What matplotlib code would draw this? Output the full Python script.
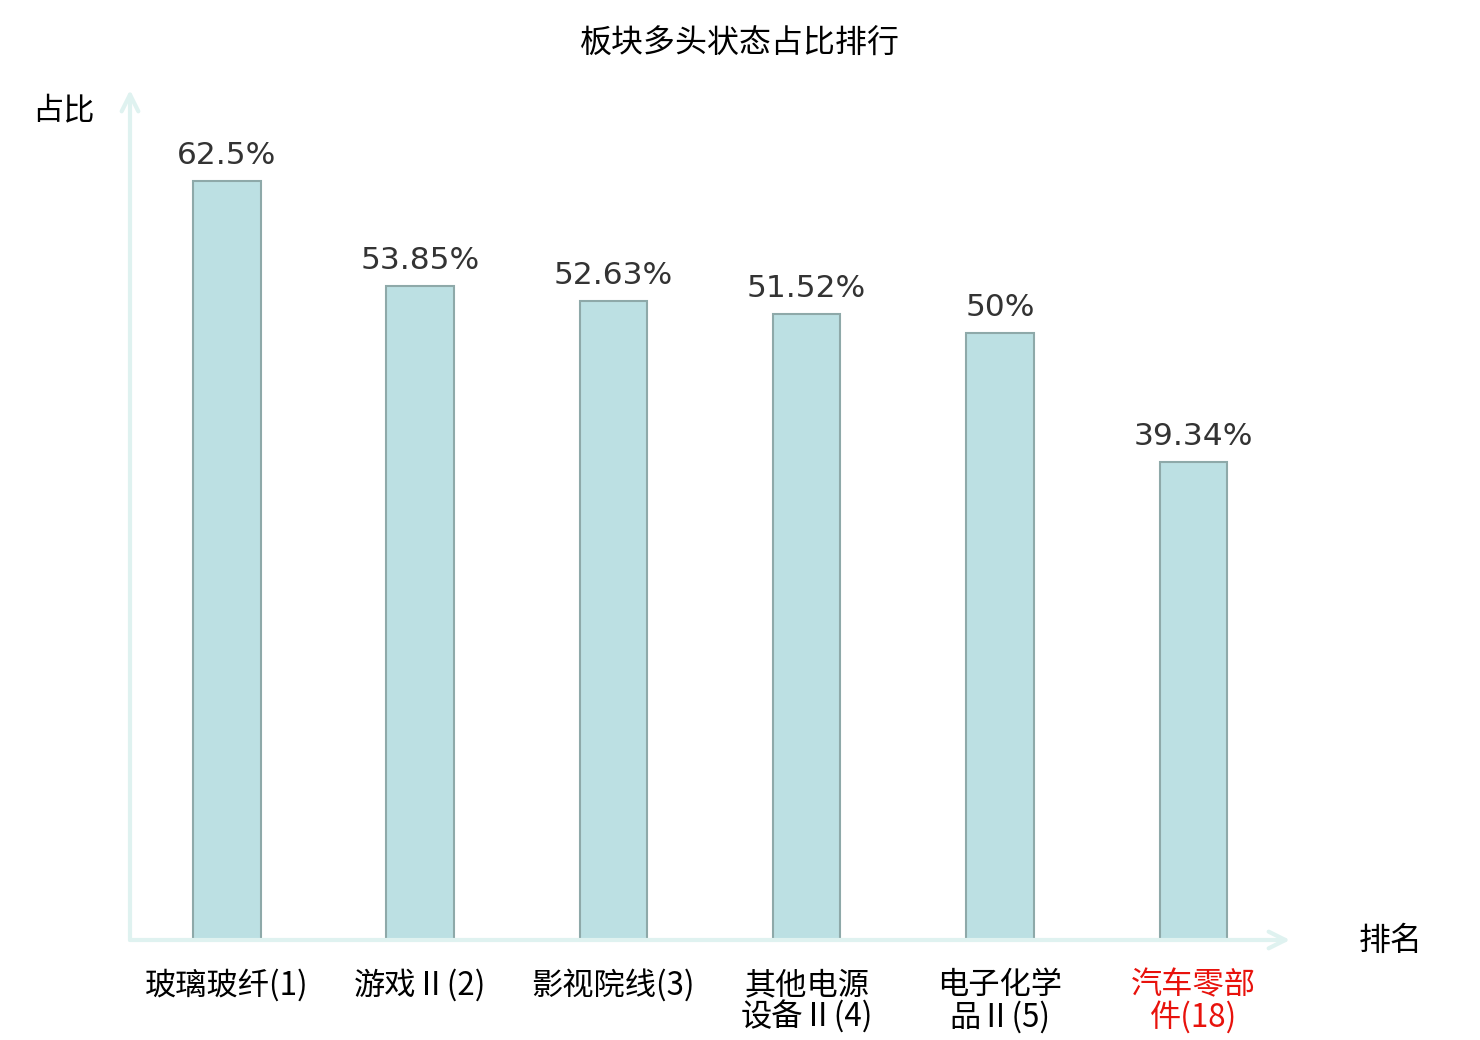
import matplotlib.pyplot as plt

plt.rcParams['font.family'] = ['Noto Sans CJK SC', 'DejaVu Sans']

sectors = ['玻璃玻纤(1)', '游戏Ⅱ(2)', '影视院线(3)', '其他电源\n设备Ⅱ(4)', '电子化学\n品Ⅱ(5)', '汽车零部\n件(18)']
ratios = [62.5, 53.85, 52.63, 51.52, 50, 39.34]
value_labels = ['62.5%', '53.85%', '52.63%', '51.52%', '50%', '39.34%']
label_colors = ['black', 'black', 'black', 'black', 'black', '#e8120c']

axis_color = '#dff2f0'

fig = plt.figure(figsize=(14.8, 10.4), dpi=100)
ax = fig.add_axes([130 / 1480, 100 / 1040, 1160 / 1480, 850 / 1040])

x = list(range(len(ratios)))
ax.bar(x, ratios, width=0.35, color='#bce0e3', edgecolor='#8ea9a9', linewidth=1.5, zorder=3)

for xi, v, lab in zip(x, ratios, value_labels):
    ax.annotate(lab, (xi, v), xytext=(0, 8), textcoords='offset points',
                ha='center', va='bottom', fontsize=22.5, color='#333333',
                family='DejaVu Sans')

ax.set_xlim(-0.5, 5.5)
ax.set_ylim(0, 70)
for s in ax.spines.values():
    s.set_visible(False)
ax.set_yticks([])
ax.set_xticks(x)
ax.set_xticklabels(sectors, fontsize=22.5, linespacing=0.98)
ax.tick_params(axis='x', length=0, pad=21)
for t, c in zip(ax.get_xticklabels(), label_colors):
    t.set_color(c)

# axis lines with open arrow heads
arrow = dict(arrowstyle='->,head_length=1.2,head_width=0.6',
             color=axis_color, lw=3, shrinkA=0, shrinkB=0)
ax.annotate('', xy=(1.0, 0), xytext=(0, 0), xycoords='axes fraction', arrowprops=arrow)
ax.annotate('', xy=(0, 1.0), xytext=(0, 0), xycoords='axes fraction', arrowprops=arrow)

fig.text(740 / 1480, 1 - 44 / 1040, '板块多头状态占比排行', ha='center', va='center', fontsize=23)
fig.text(63 / 1480, 1 - 110 / 1040, '占比', ha='center', va='center', fontsize=22.5)
fig.text(1391 / 1480, 1 - 941 / 1040, '排名', ha='center', va='center', fontsize=23)

fig.savefig('out.png')
